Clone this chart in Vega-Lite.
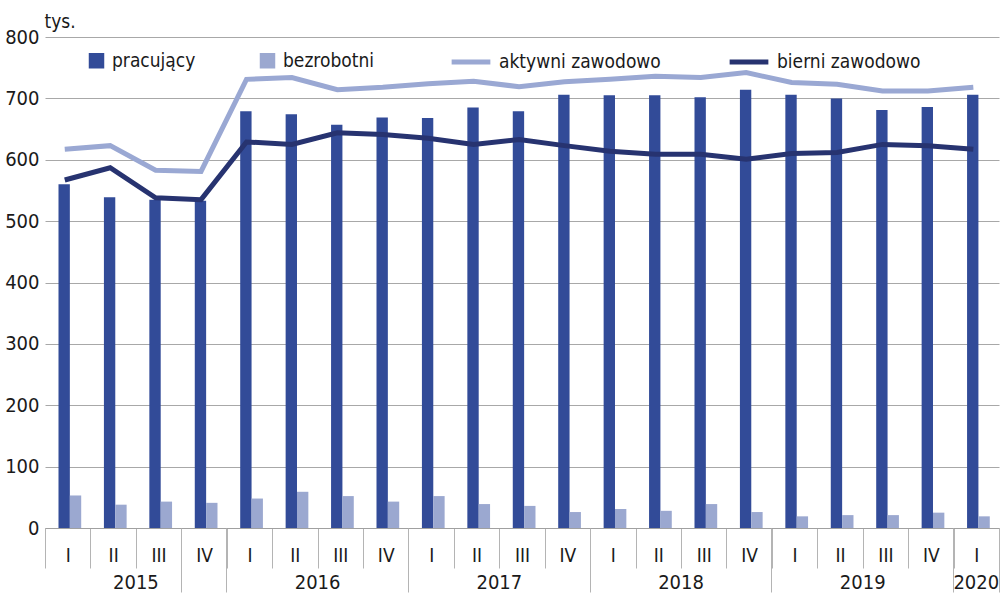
{
  "$schema": "https://vega.github.io/schema/vega-lite/v6.json",
  "width": 954,
  "height": 491,
  "autosize": {"type": "none"},
  "padding": {"left": 45, "top": 37, "right": 4, "bottom": 66},
  "background": "white",
  "config": {
    "font": "DejaVu Sans Condensed, DejaVu Sans, sans-serif",
    "view": {"stroke": null},
    "axis": {"labelColor": "#1a1a1a", "titleColor": "#1a1a1a"},
    "legend": {"labelColor": "#1a1a1a"}
  },
  "data": {
    "values": [
      {"kw": "2015 I", "seria": "pracujący", "wartosc": 560},
      {"kw": "2015 II", "seria": "pracujący", "wartosc": 539},
      {"kw": "2015 III", "seria": "pracujący", "wartosc": 535},
      {"kw": "2015 IV", "seria": "pracujący", "wartosc": 533},
      {"kw": "2016 I", "seria": "pracujący", "wartosc": 679},
      {"kw": "2016 II", "seria": "pracujący", "wartosc": 674},
      {"kw": "2016 III", "seria": "pracujący", "wartosc": 657},
      {"kw": "2016 IV", "seria": "pracujący", "wartosc": 669},
      {"kw": "2017 I", "seria": "pracujący", "wartosc": 668},
      {"kw": "2017 II", "seria": "pracujący", "wartosc": 685},
      {"kw": "2017 III", "seria": "pracujący", "wartosc": 679},
      {"kw": "2017 IV", "seria": "pracujący", "wartosc": 706},
      {"kw": "2018 I", "seria": "pracujący", "wartosc": 705},
      {"kw": "2018 II", "seria": "pracujący", "wartosc": 705},
      {"kw": "2018 III", "seria": "pracujący", "wartosc": 702},
      {"kw": "2018 IV", "seria": "pracujący", "wartosc": 714},
      {"kw": "2019 I", "seria": "pracujący", "wartosc": 706},
      {"kw": "2019 II", "seria": "pracujący", "wartosc": 700},
      {"kw": "2019 III", "seria": "pracujący", "wartosc": 681},
      {"kw": "2019 IV", "seria": "pracujący", "wartosc": 686},
      {"kw": "2020 I", "seria": "pracujący", "wartosc": 706},
      {"kw": "2015 I", "seria": "bezrobotni", "wartosc": 53},
      {"kw": "2015 II", "seria": "bezrobotni", "wartosc": 38},
      {"kw": "2015 III", "seria": "bezrobotni", "wartosc": 43},
      {"kw": "2015 IV", "seria": "bezrobotni", "wartosc": 41},
      {"kw": "2016 I", "seria": "bezrobotni", "wartosc": 48},
      {"kw": "2016 II", "seria": "bezrobotni", "wartosc": 59},
      {"kw": "2016 III", "seria": "bezrobotni", "wartosc": 52},
      {"kw": "2016 IV", "seria": "bezrobotni", "wartosc": 43},
      {"kw": "2017 I", "seria": "bezrobotni", "wartosc": 52},
      {"kw": "2017 II", "seria": "bezrobotni", "wartosc": 39},
      {"kw": "2017 III", "seria": "bezrobotni", "wartosc": 36},
      {"kw": "2017 IV", "seria": "bezrobotni", "wartosc": 26},
      {"kw": "2018 I", "seria": "bezrobotni", "wartosc": 31},
      {"kw": "2018 II", "seria": "bezrobotni", "wartosc": 28},
      {"kw": "2018 III", "seria": "bezrobotni", "wartosc": 39},
      {"kw": "2018 IV", "seria": "bezrobotni", "wartosc": 26},
      {"kw": "2019 I", "seria": "bezrobotni", "wartosc": 19},
      {"kw": "2019 II", "seria": "bezrobotni", "wartosc": 21},
      {"kw": "2019 III", "seria": "bezrobotni", "wartosc": 21},
      {"kw": "2019 IV", "seria": "bezrobotni", "wartosc": 25},
      {"kw": "2020 I", "seria": "bezrobotni", "wartosc": 19},
      {"kw": "2015 I", "seria": "aktywni zawodowo", "wartosc": 617},
      {"kw": "2015 II", "seria": "aktywni zawodowo", "wartosc": 623},
      {"kw": "2015 III", "seria": "aktywni zawodowo", "wartosc": 583},
      {"kw": "2015 IV", "seria": "aktywni zawodowo", "wartosc": 581},
      {"kw": "2016 I", "seria": "aktywni zawodowo", "wartosc": 731},
      {"kw": "2016 II", "seria": "aktywni zawodowo", "wartosc": 734},
      {"kw": "2016 III", "seria": "aktywni zawodowo", "wartosc": 714},
      {"kw": "2016 IV", "seria": "aktywni zawodowo", "wartosc": 718},
      {"kw": "2017 I", "seria": "aktywni zawodowo", "wartosc": 724},
      {"kw": "2017 II", "seria": "aktywni zawodowo", "wartosc": 728},
      {"kw": "2017 III", "seria": "aktywni zawodowo", "wartosc": 719},
      {"kw": "2017 IV", "seria": "aktywni zawodowo", "wartosc": 727},
      {"kw": "2018 I", "seria": "aktywni zawodowo", "wartosc": 731},
      {"kw": "2018 II", "seria": "aktywni zawodowo", "wartosc": 736},
      {"kw": "2018 III", "seria": "aktywni zawodowo", "wartosc": 734},
      {"kw": "2018 IV", "seria": "aktywni zawodowo", "wartosc": 742},
      {"kw": "2019 I", "seria": "aktywni zawodowo", "wartosc": 726},
      {"kw": "2019 II", "seria": "aktywni zawodowo", "wartosc": 723},
      {"kw": "2019 III", "seria": "aktywni zawodowo", "wartosc": 712},
      {"kw": "2019 IV", "seria": "aktywni zawodowo", "wartosc": 712},
      {"kw": "2020 I", "seria": "aktywni zawodowo", "wartosc": 718},
      {"kw": "2015 I", "seria": "bierni zawodowo", "wartosc": 567},
      {"kw": "2015 II", "seria": "bierni zawodowo", "wartosc": 587},
      {"kw": "2015 III", "seria": "bierni zawodowo", "wartosc": 538},
      {"kw": "2015 IV", "seria": "bierni zawodowo", "wartosc": 535},
      {"kw": "2016 I", "seria": "bierni zawodowo", "wartosc": 629},
      {"kw": "2016 II", "seria": "bierni zawodowo", "wartosc": 625},
      {"kw": "2016 III", "seria": "bierni zawodowo", "wartosc": 644},
      {"kw": "2016 IV", "seria": "bierni zawodowo", "wartosc": 641},
      {"kw": "2017 I", "seria": "bierni zawodowo", "wartosc": 635},
      {"kw": "2017 II", "seria": "bierni zawodowo", "wartosc": 625},
      {"kw": "2017 III", "seria": "bierni zawodowo", "wartosc": 633},
      {"kw": "2017 IV", "seria": "bierni zawodowo", "wartosc": 623},
      {"kw": "2018 I", "seria": "bierni zawodowo", "wartosc": 614},
      {"kw": "2018 II", "seria": "bierni zawodowo", "wartosc": 609},
      {"kw": "2018 III", "seria": "bierni zawodowo", "wartosc": 609},
      {"kw": "2018 IV", "seria": "bierni zawodowo", "wartosc": 601},
      {"kw": "2019 I", "seria": "bierni zawodowo", "wartosc": 610},
      {"kw": "2019 II", "seria": "bierni zawodowo", "wartosc": 612},
      {"kw": "2019 III", "seria": "bierni zawodowo", "wartosc": 625},
      {"kw": "2019 IV", "seria": "bierni zawodowo", "wartosc": 623},
      {"kw": "2020 I", "seria": "bierni zawodowo", "wartosc": 617}
    ]
  },
  "layer": [
    {
      "transform": [{"filter": "datum.seria == 'pracujący' || datum.seria == 'bezrobotni'"}],
      "mark": {"type": "bar"},
      "encoding": {
        "x": {
          "field": "kw",
          "type": "nominal",
          "scale": {
            "domain": ["2015 I", "2015 II", "2015 III", "2015 IV", "2016 I", "2016 II", "2016 III", "2016 IV", "2017 I", "2017 II", "2017 III", "2017 IV", "2018 I", "2018 II", "2018 III", "2018 IV", "2019 I", "2019 II", "2019 III", "2019 IV", "2020 I"],
            "paddingInner": 0,
            "paddingOuter": 0
          },
          "axis": {
            "title": null,
            "orient": "bottom",
            "labelExpr": "datum.value ? split(datum.value, ' ')[1] : ''",
            "labelAngle": 0,
            "labelFontSize": 19,
            "labelBaseline": "middle",
            "labelPadding": -13,
            "labelOverlap": false,
            "tickBand": "extent",
            "tickSize": 40,
            "tickColor": "#b4b4b4",
            "domainColor": "#a0a0a0"
          }
        },
        "xOffset": {
          "field": "seria",
          "type": "nominal",
          "scale": {"domain": ["pracujący", "bezrobotni"], "paddingInner": 0, "paddingOuter": 1.162, "align": 0.594}
        },
        "y": {
          "field": "wartosc",
          "type": "quantitative",
          "scale": {"domain": [0, 800], "nice": false},
          "axis": {
            "title": "tys.",
            "titleAngle": 0,
            "titleAlign": "left",
            "titleBaseline": "alphabetic",
            "titleX": -1,
            "titleY": -10,
            "titleFontSize": 19,
            "titleFontWeight": "normal",
            "values": [0, 100, 200, 300, 400, 500, 600, 700, 800],
            "grid": true,
            "gridColor": "#a8a8a8",
            "domain": false,
            "ticks": false,
            "labelFontSize": 20,
            "labelPadding": 6
          }
        },
        "color": {
          "field": "seria",
          "type": "nominal",
          "scale": {"domain": ["pracujący", "bezrobotni"], "range": ["#324b98", "#9ba8d0"]},
          "legend": {
            "orient": "none",
            "legendX": 42,
            "legendY": 14,
            "direction": "horizontal",
            "title": null,
            "symbolType": "square",
            "symbolSize": 240,
            "symbolStrokeWidth": 0,
            "labelFontSize": 19,
            "labelLimit": 300,
            "labelOffset": 6,
            "columnPadding": 62
          }
        }
      }
    },
    {
      "transform": [{"filter": "datum.seria == 'aktywni zawodowo' || datum.seria == 'bierni zawodowo'"}],
      "mark": {"type": "line", "strokeWidth": 5},
      "encoding": {
        "x": {
          "field": "kw",
          "type": "nominal",
          "bandPosition": 0.435,
          "axis": {
            "title": null,
            "orient": "bottom",
            "values": ["2015 IV", "2016 IV", "2017 IV", "2018 IV", "2019 IV", "2020 I"],
            "bandPosition": 1,
            "tickExtra": true,
            "tickSize": 64,
            "tickColor": "#b4b4b4",
            "domain": false,
            "labelExpr": "datum.value ? split(datum.value, ' ')[0] : ''",
            "labelAngle": 0,
            "labelOverlap": false,
            "labelFontSize": 20,
            "labelBaseline": "middle",
            "labelPadding": -10,
            "labelOffset": {"condition": {"test": "datum.value == '2020 I'", "value": 0}, "value": -68.1}
          }
        },
        "y": {"field": "wartosc", "type": "quantitative"},
        "stroke": {
          "field": "seria",
          "type": "nominal",
          "scale": {"domain": ["aktywni zawodowo", "bierni zawodowo"], "range": ["#9aa8d3", "#273370"]},
          "legend": {
            "orient": "none",
            "legendX": 404,
            "legendY": 3,
            "direction": "horizontal",
            "title": null,
            "symbolType": "stroke",
            "symbolSize": 1500,
            "symbolStrokeWidth": 5,
            "labelFontSize": 19,
            "labelLimit": 300,
            "labelOffset": 6,
            "columnPadding": 58
          }
        }
      }
    }
  ],
  "resolve": {"axis": {"x": "independent"}}
}
